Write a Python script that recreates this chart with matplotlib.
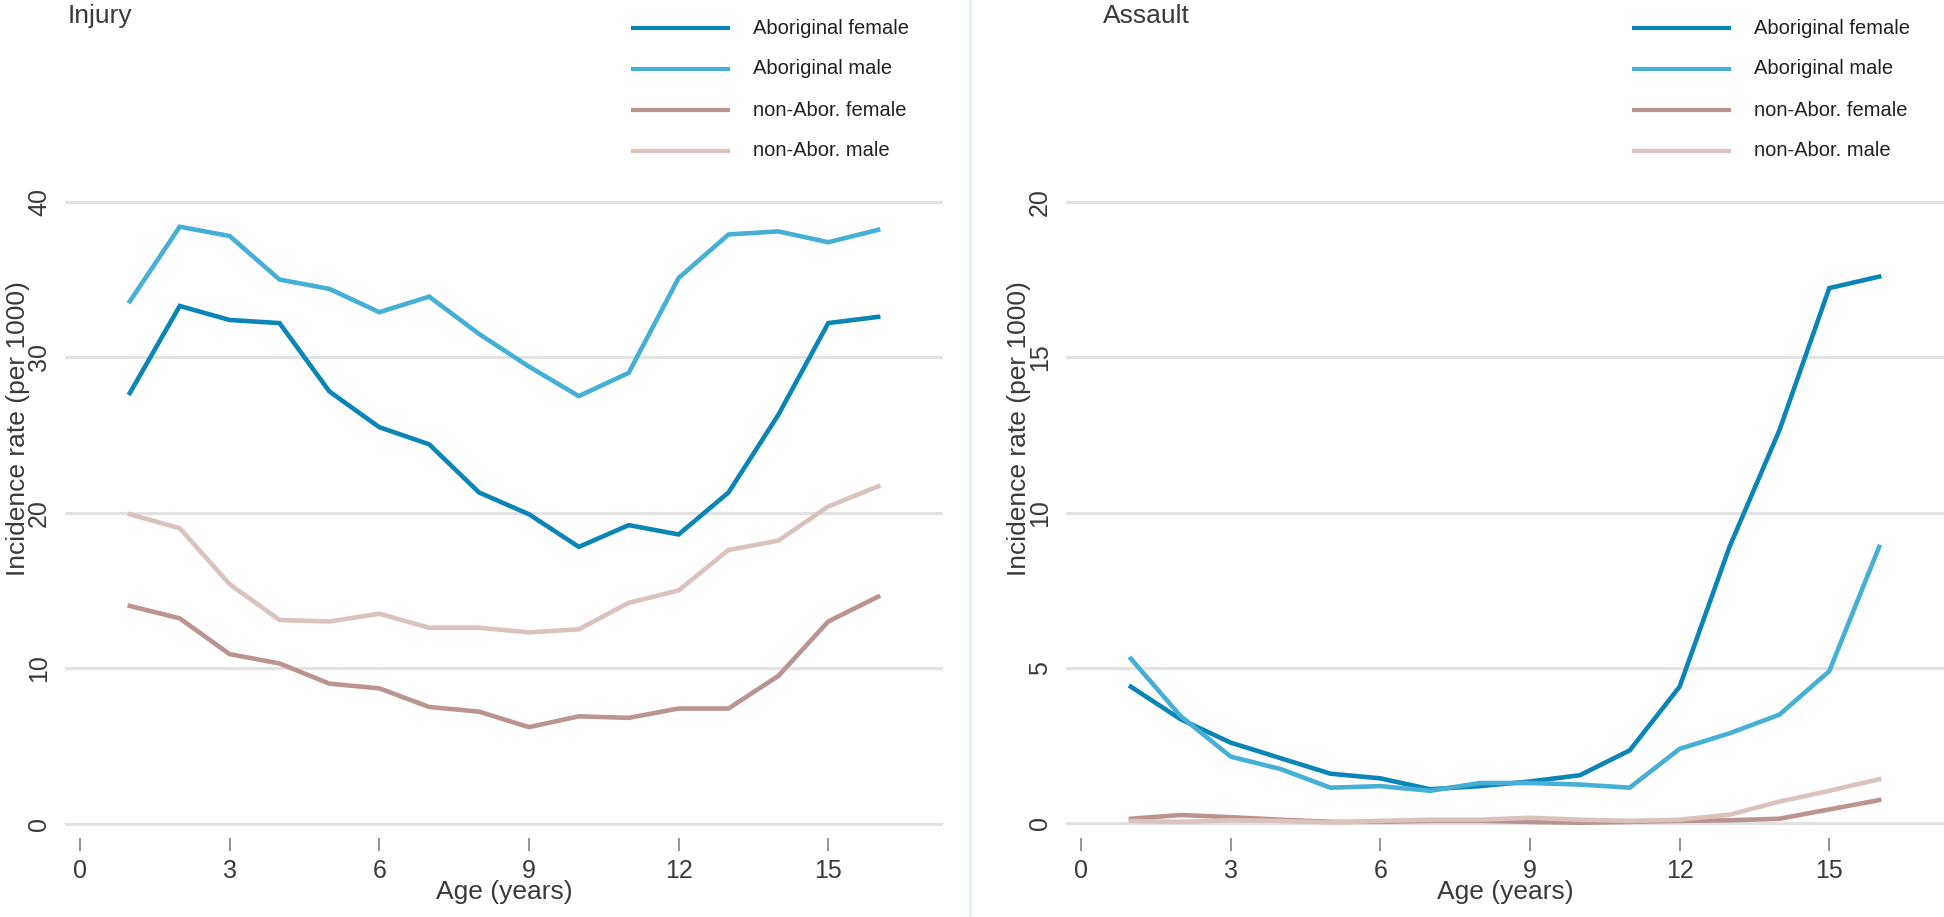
import matplotlib
matplotlib.use("Agg")
import matplotlib.pyplot as plt
from matplotlib.lines import Line2D

plt.rcParams['font.family'] = ['Liberation Sans', 'DejaVu Sans']

ages = list(range(1, 17))
series_names = ["Aboriginal female", "Aboriginal male", "non-Abor. female", "non-Abor. male"]
series_colors = ["#0A85B6", "#45AFD5", "#B99490", "#DAC2BE"]

# Injury panel (per 1000)
injury_abor_female = [27.7, 33.3, 32.4, 32.2, 27.8, 25.5, 24.4, 21.3, 19.9, 17.8, 19.2, 18.6, 21.3, 26.3, 32.2, 32.6]
injury_abor_male = [33.6, 38.4, 37.8, 35.0, 34.4, 32.9, 33.9, 31.5, 29.4, 27.5, 29.0, 35.1, 37.9, 38.1, 37.4, 38.2]
injury_non_female = [14.0, 13.2, 10.9, 10.3, 9.0, 8.7, 7.5, 7.2, 6.2, 6.9, 6.8, 7.4, 7.4, 9.5, 13.0, 14.6]
injury_non_male = [19.9, 19.0, 15.4, 13.1, 13.0, 13.5, 12.6, 12.6, 12.3, 12.5, 14.2, 15.0, 17.6, 18.2, 20.4, 21.7]

# Assault panel (per 1000)
assault_abor_female = [4.4, 3.35, 2.6, 2.1, 1.6, 1.45, 1.1, 1.2, 1.35, 1.55, 2.35, 4.4, 8.9, 12.65, 17.23, 17.6]
assault_abor_male = [5.3, 3.45, 2.15, 1.75, 1.15, 1.2, 1.05, 1.3, 1.3, 1.25, 1.15, 2.4, 2.9, 3.5, 4.9, 8.9]
assault_non_female = [0.15, 0.27, 0.2, 0.12, 0.05, 0.05, 0.08, 0.08, 0.05, 0.02, 0.05, 0.08, 0.1, 0.15, 0.45, 0.75]
assault_non_male = [0.08, 0.05, 0.1, 0.08, 0.03, 0.08, 0.12, 0.12, 0.18, 0.12, 0.08, 0.12, 0.28, 0.7, 1.05, 1.42]

panel_titles = ["Injury", "Assault"]
x_ticks = [0, 3, 6, 9, 12, 15]
y_ticks_injury = [0, 10, 20, 30, 40]
y_ticks_assault = [0, 5, 10, 15, 20]
x_label = "Age (years)"
y_label = "Incidence rate (per 1000)"

W, H = 1944, 917
fig = plt.figure(figsize=(W / 100, H / 100), dpi=100)
fig.patch.set_facecolor("white")

def px_axes(x0, x1, y_top, y_bot):
    return fig.add_axes([x0 / W, (H - y_bot) / H, (x1 - x0) / W, (y_bot - y_top) / H])

ax1 = px_axes(65, 943, 20, 838)
ax2 = px_axes(1066, 1944, 20, 838)

panels = [
    (ax1, [injury_abor_female, injury_abor_male, injury_non_female, injury_non_male], y_ticks_injury, (-0.93, 51.7), 68),
    (ax2, [assault_abor_female, assault_abor_male, assault_non_female, assault_non_male], y_ticks_assault, (-0.47, 25.86), 1103),
]

text_col = "#3a3a3a"
for i, (ax, data, yt, ylim, title_x) in enumerate(panels):
    ax.set_xlim(-0.3, 17.3)
    ax.set_ylim(*ylim)
    for s in ax.spines.values():
        s.set_visible(False)
    ax.set_yticks(yt)
    ax.set_yticklabels([str(v) for v in yt], rotation=90, va="center", fontsize=18, color=text_col)
    ax.tick_params(axis="y", length=0, pad=10)
    ax.set_xticks(x_ticks)
    ax.set_xticklabels([str(v) for v in x_ticks], fontsize=18, color=text_col)
    ax.tick_params(axis="x", length=9, width=1.3, color="#8a8a8a", pad=6, direction="out")
    ax.grid(axis="y", color="#e2e2e2", linewidth=2.2)
    ax.set_axisbelow(True)
    ax.set_xlabel(x_label, fontsize=19, color=text_col, labelpad=-2)
    ax.set_ylabel(y_label, fontsize=19, color=text_col, labelpad=-2)
    for vals, col, name in zip(data, series_colors, series_names):
        ax.plot(ages, vals, color=col, linewidth=3.3, solid_joinstyle="miter", label=name)
    fig.text(title_x / W, 1 - 4 / H, panel_titles[i], fontsize=19,
             color=text_col, ha="left", va="top")
    # legend drawn manually (top right)
    for k, (name, col) in enumerate(zip(series_names, series_colors)):
        ypx = 28 + 41 * k
        yfrac = (838 - ypx) / (838 - 20)
        ax.plot([0.6445, 0.7575], [yfrac, yfrac], transform=ax.transAxes, color=col,
                linewidth=3.0, solid_capstyle="butt", clip_on=False)
        ax.text(0.784, yfrac, name, transform=ax.transAxes, fontsize=14.5,
                color="#222222", ha="left", va="center")

# divider between panels
fig.add_artist(Line2D([970 / W, 970 / W], [0, 1], color="#e9f3f5", linewidth=2.5))

fig.savefig("out.png", dpi=100, facecolor="white")
